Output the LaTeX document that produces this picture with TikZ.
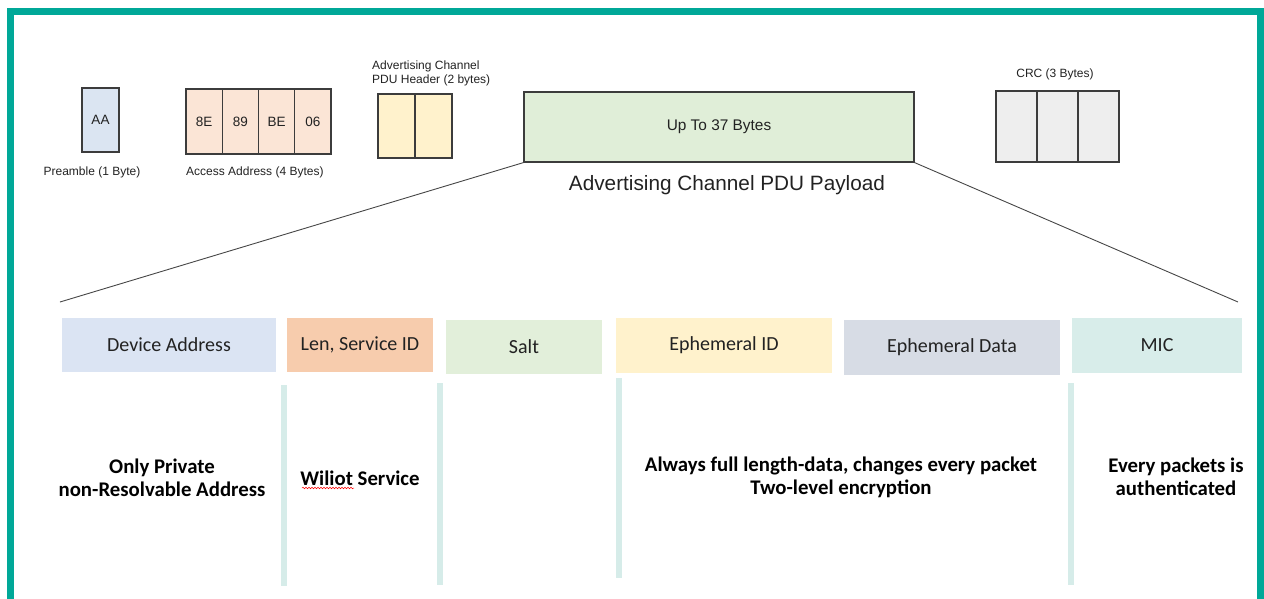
\documentclass[tikz,border=0pt]{standalone}
\usepackage{fontspec}
\setmainfont{Liberation Sans}
\newfontfamily\calfont{Carlito}
\usepackage{tikz}
\usetikzlibrary{positioning, calc, decorations.pathmorphing}
\definecolor{ink}{RGB}{34,34,34}
\definecolor{frameteal}{RGB}{0,168,152}
\definecolor{cellline}{RGB}{60,60,60}
\definecolor{fanline}{RGB}{70,70,70}
\definecolor{prefill}{RGB}{219,229,242}
\definecolor{accfill}{RGB}{251,229,214}
\definecolor{hdrfill}{RGB}{255,242,204}
\definecolor{payfill}{RGB}{224,238,216}
\definecolor{crcfill}{RGB}{238,238,238}
\definecolor{dafill}{RGB}{219,228,243}
\definecolor{lenfill}{RGB}{247,204,173}
\definecolor{saltfill}{RGB}{226,239,218}
\definecolor{eidfill}{RGB}{255,242,204}
\definecolor{edatafill}{RGB}{215,220,229}
\definecolor{micfill}{RGB}{216,237,234}
\definecolor{railteal}{RGB}{214,236,233}

\begin{document}
\begin{tikzpicture}[x=1pt, y=-1pt,
    cell/.style={draw=cellline, line width=1.2pt, minimum width=36.25pt, minimum height=65pt,
                 inner sep=0pt, font=\fontsize{13.5}{15}\selectfont, text=ink},
    tag/.style={font=\fontsize{12}{14}\selectfont, text=ink, inner sep=0pt},
    field/.style={minimum height=54pt, inner sep=0pt, font=\calfont\fontsize{20}{22}\selectfont, text=ink},
    remark/.style={font=\calfont\bfseries\fontsize{20.8}{23}\selectfont, align=center, text=black, inner sep=0pt},
    rail/.style={draw=railteal, line width=6pt},
    fan/.style={draw=fanline, line width=0.9pt}
  ]
  \useasboundingbox (0,0) rectangle (1264,598);
  % --- outer frame ---
  \draw[draw=frameteal, line width=6.5pt] (10.5,640) -- (10.5,11.5) -- (1260.5,11.5) -- (1260.5,640);

  % --- packet layout ---
  \node[cell, fill=prefill, minimum width=37pt, minimum height=64pt] (aa) at (100.5,120) {AA};
  \node[tag] (pretag) at (92,172) {Preamble (1 Byte)};

  \foreach \lab [count=\i from 0] in {8E,89,BE,06} {
      \node[cell, fill=accfill] (acc\i) at (204.1+36.25*\i,121.5) {\lab};
  }
  \node[tag, anchor=west] (acctag) at (186,172) {Access Address (4 Bytes)};

  \foreach \i in {0,1} {
      \node[cell, fill=hdrfill, minimum width=37pt, minimum height=64pt] (hdr\i) at (396.5+37*\i,126) {};
  }
  \node[tag, anchor=west, align=left] (hdrtag) at (372,73) {Advertising Channel\\PDU Header (2 bytes)};

  \node[cell, fill=payfill, minimum width=390pt, minimum height=70pt,
        font=\fontsize{15.4}{18}\selectfont] (pay) at (719,127) {Up To 37 Bytes};
  \node[font=\fontsize{20.75}{24}\selectfont, text=ink, inner sep=0pt] (paytag) at (727,185)
       {Advertising Channel PDU Payload};

  \foreach \i in {0,1,2} {
      \node[cell, fill=crcfill, minimum width=41pt, minimum height=71pt] (crc\i) at (1016.5+41*\i,126.5) {};
  }
  \node[tag] (crctag) at (1055,74) {CRC (3 Bytes)};

  % --- zoom lines ---
  \coordinate (lfoot) at (60,302);
  \coordinate (rfoot) at (1238,302);
  \draw[fan] (pay.south west) -- (lfoot);
  \draw[fan] (pay.south east) -- (rfoot);

  % --- payload fields ---
  \node[field, fill=dafill, minimum width=214pt] (da) at (169,345) {Device Address};
  \node[field, fill=lenfill, minimum width=146pt] (len) at (360,345) {Len, Service ID};
  \node[field, fill=saltfill, minimum width=156pt] (salt) at (524,347) {Salt};
  \node[field, fill=eidfill, minimum width=216pt, minimum height=55pt] (eid) at (724,345.5) {Ephemeral ID};
  \node[field, fill=edatafill, minimum width=216pt, minimum height=55pt] (edata) at (952,347.5) {Ephemeral Data};
  \node[field, fill=micfill, minimum width=170pt, minimum height=55pt] (mic) at (1157,345.5) {MIC};

  % separators
  \foreach \x/\ya/\yb in {284/385/586, 440/383/585, 619/378/578, 1071/383/585} {
      \draw[rail] (\x,\ya) -- (\x,\yb);
  }

  % --- notes ---
  \node[remark] (danote) at (162,478) {Only Private\\non-Resolvable Address};
  \node[remark] (lennote) at (360,478) {Wiliot Service};
  \draw[red, line width=0.5pt, decorate, decoration={snake, amplitude=0.8pt, segment length=3pt}]
       (302,488) -- (354,488);
  \node[remark] (eidnote) at (841,477) {Always full length-data, changes every packet\\Two-level encryption};
  \node[remark] (micnote) at (1176,477) {Every packets is\\authenticated};
\end{tikzpicture}
\end{document}
